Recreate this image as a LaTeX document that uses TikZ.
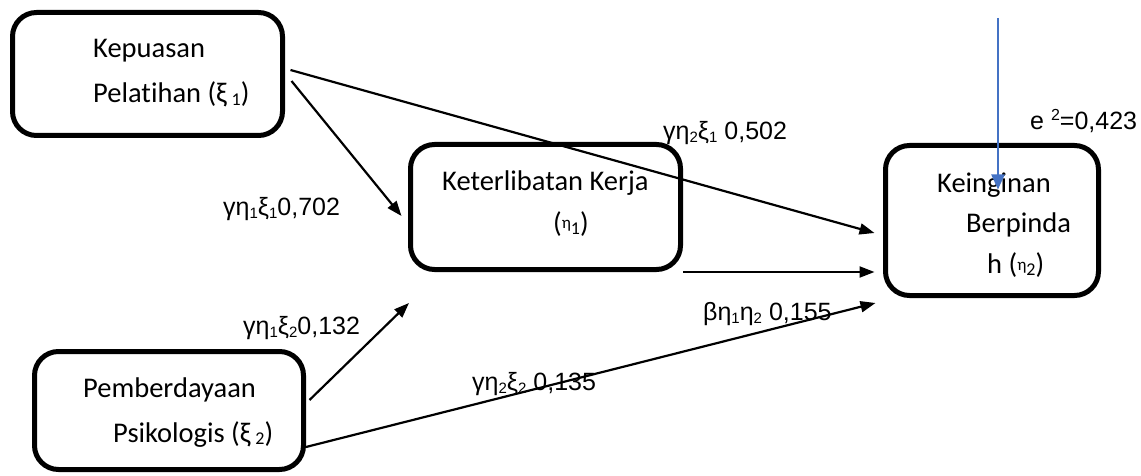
\documentclass[tikz,border=0pt]{standalone}
\usepackage{fontspec}
\setmainfont{Carlito}[Ligatures=NoCommon]
\newfontfamily\arialf{Liberation Sans}
\usetikzlibrary{arrows.meta}
\definecolor{officeblue}{RGB}{68,114,196}
% lowered indices used after Greek letters
\newcommand\lsub[1]{\raisebox{-3pt}{\fontsize{15}{15}\selectfont #1}}
\newcommand\bsub[1]{\raisebox{-2pt}{\fontsize{18}{18}\selectfont #1}}

\begin{document}
\begin{tikzpicture}[x=1pt,y=-1pt,
  box/.style={draw, line width=5pt, rounded corners=24pt, inner sep=0pt},
  boxtext/.style={anchor=base west, inner sep=0pt, font=\fontsize{28.5}{30}\selectfont},
  coef/.style={anchor=base west, inner sep=0pt, font=\arialf\fontsize{25}{27}\selectfont},
  link/.style={line width=2.2pt, -{Triangle[length=15pt,width=11pt]}},
  errlink/.style={line width=2.2pt, officeblue, -{Triangle[length=15pt,width=13pt]}}]
\useasboundingbox (0,0) rectangle (1141,476);

% latent variables
\node[box, minimum width=270pt, minimum height=123pt] (kp) at (147.5,74) {};
\node[box, minimum width=270pt, minimum height=125pt] (kk) at (545.5,207) {};
\node[box, minimum width=213pt, minimum height=150pt] (kb) at (992,220.5) {};
\node[box, minimum width=269pt, minimum height=118pt] (pp) at (169,410.5) {};

% variable names
\node[boxtext] (kp1) at (93,58) {Kepuasan};
\node[boxtext] (kp2) at (93,103) {Pelatihan (ξ\,\bsub{1})};
\node[boxtext] (kk1) at (442,190) {Keterlibatan Kerja};
\node[boxtext] (kk2) at (553,232) {(\raisebox{3pt}{\fontsize{17}{17}\selectfont η}\bsub{1})};
\node[boxtext] (kb1) at (937,193) {Keinginan};
\node[boxtext] (kb2) at (966,233) {Berpinda};
\node[boxtext] (kb3) at (987,273) {h (\raisebox{3pt}{\fontsize{17}{17}\selectfont η}\bsub{2})};
\node[boxtext] (pp1) at (83,397) {Pemberdayaan};
\node[boxtext] (pp2) at (113,442) {Psikologis (ξ\,\bsub{2})};

% path coefficients
\node[coef] (c1) at (223,215) {γη\lsub{1}ξ\lsub{1}0,702};
\node[coef] (c2) at (663,140) {γη\lsub{2}ξ\lsub{1} 0,502};
\node[coef] (c3) at (243,334) {γη\lsub{1}ξ\lsub{2}0,132};
\node[coef] (c4) at (703,320) {βη\lsub{1}η\lsub{2} 0,155};
\node[coef] (c5) at (472,390) {γη\lsub{2}ξ\lsub{2} 0,135};
\node[coef] (r2) at (1030,130)
  {e \raisebox{9pt}{\fontsize{16}{16}\selectfont 2}=0,423};

% free ends
\coordinate (dend) at (409,303);
\coordinate (etop) at (998,18);

% structural paths
\draw[link] ([shift={(5.5pt,4pt)}]kp.east) -- ([shift={(-8.5pt,-12.5pt)}]kb.west);
\draw[link] ([shift={(6.5pt,-7pt)}]kp.east) -- ([shift={(-6.5pt,-9pt)}]kk.west);
\draw[link] ([shift={(0pt,-65pt)}]kk.east) -- ([shift={(-8.5pt,-51.5pt)}]kb.west);
\draw[link] ([shift={(3.5pt,10.5pt)}]pp.east) -- (dend);
\draw[link] ([shift={(0pt,-36.5pt)}]pp.east) -- ([shift={(-7.5pt,-82.5pt)}]kb.west);

% error term
\draw[errlink] (etop) -- ([shift={(6pt,-46.5pt)}]kb.north);
\end{tikzpicture}
\end{document}
